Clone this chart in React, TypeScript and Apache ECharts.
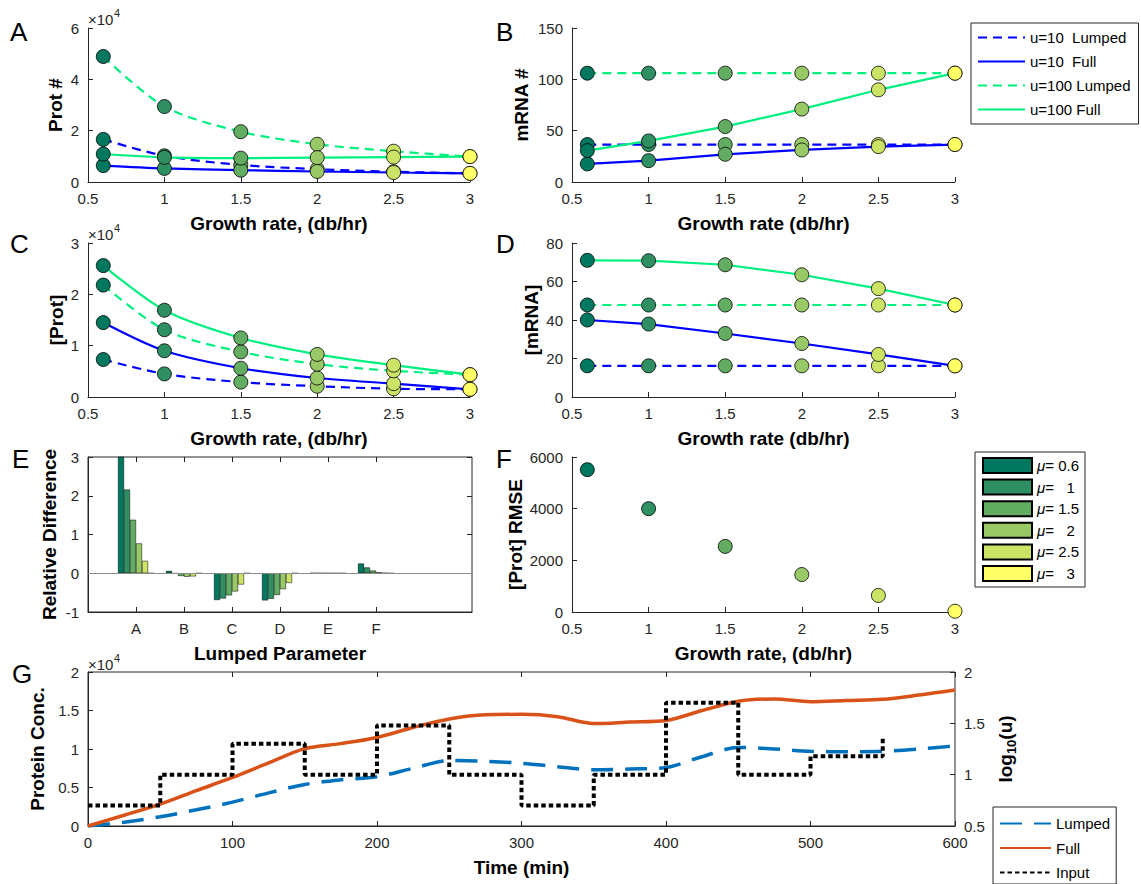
import React, { useEffect, useRef } from 'react';
import * as echarts from 'echarts';

// ---------- data ----------
const growth = [0.6, 1, 1.5, 2, 2.5, 3];
const muNames = ['μ= 0.6', 'μ=   1', 'μ= 1.5', 'μ=   2', 'μ= 2.5', 'μ=   3'];
const muColors = ['#00775f', '#2e8f62', '#63ad63', '#99c966', '#cce466', '#ffff66'];

const lineNames = ['u=10  Lumped', 'u=10  Full', 'u=100 Lumped', 'u=100 Full'];

// A: Prot #
const protNumU10Lumped = [16600, 10200, 6650, 5000, 4000, 3350];
const protNumU10Full = [6400, 5300, 4600, 4100, 3700, 3350];
const protNumU100Lumped = [48900, 29400, 19600, 14700, 12000, 9900];
const protNumU100Full = [10900, 9600, 9300, 9500, 9700, 9900];

// B: mRNA #
const mrnaNumU10Lumped = [36.5, 36.5, 36.5, 36.5, 36.5, 36.5];
const mrnaNumU10Full = [17.6, 20.8, 27, 31.2, 34.5, 36.5];
const mrnaNumU100Lumped = [106, 106, 106, 106, 106, 106];
const mrnaNumU100Full = [30.6, 40, 54, 71, 89.8, 106];

// C: [Prot]
const protConcU10Lumped = [7300, 4500, 2900, 2100, 1600, 1500];
const protConcU10Full = [14500, 9000, 5600, 3700, 2600, 1500];
const protConcU100Lumped = [21800, 13100, 8800, 6400, 5100, 4350];
const protConcU100Full = [25600, 16900, 11500, 8300, 6200, 4350];

// D: [mRNA]
const mrnaConcU10Lumped = [16.2, 16.2, 16.2, 16.2, 16.2, 16.2];
const mrnaConcU10Full = [40, 37.9, 33, 27.8, 22.1, 16.2];
const mrnaConcU100Lumped = [47.8, 47.8, 47.8, 47.8, 47.8, 47.8];
const mrnaConcU100Full = [71, 70.8, 68.7, 63.5, 56.3, 47.8];

// E: relative difference per lumped parameter (A..F), one row per mu
const paramNames = ['A', 'B', 'C', 'D', 'E', 'F'];
const relDiffMu06 = [3.4, 0.06, -0.69, -0.70, 0.004, 0.25];
const relDiffMu1 = [2.16, -0.01, -0.65, -0.66, 0.003, 0.15];
const relDiffMu15 = [1.38, -0.07, -0.57, -0.56, 0.002, 0.07];
const relDiffMu2 = [0.77, -0.09, -0.47, -0.41, 0.002, 0.025];
const relDiffMu25 = [0.32, -0.08, -0.29, -0.25, 0.001, 0.006];
const relDiffMu3 = [0, 0, 0, 0, 0, 0];

// F: [Prot] RMSE
const protRmse = [5510, 4000, 2540, 1450, 640, 30];

// G: time course
const timeMin = [0, 25, 50, 75, 100, 125, 150, 175, 200, 225, 250, 275, 300, 325, 350, 375, 400, 425, 450, 475, 500, 525, 550, 575, 600];
const fullConc = [0, 1400, 2850, 4600, 6300, 8200, 10050, 10700, 11500, 12800, 13900, 14450, 14500, 14200, 13300, 13500, 13700, 15000, 16200, 16500, 16150, 16300, 16450, 17000, 17650];
const lumpedConc = [0, 500, 1200, 2100, 3100, 4300, 5400, 6000, 6400, 7500, 8500, 8400, 8150, 7700, 7300, 7400, 7600, 9000, 10200, 10000, 9700, 9650, 9700, 10000, 10400];
const inputTimes = [0, 50, 100, 150, 200, 250, 300, 350, 400, 450, 500, 550];
const inputLogU = [0.7, 1, 1.3, 1, 1.48, 1, 0.7, 1, 1.7, 1, 1.18, 1.36];

// ---------- styling ----------
const FONT = '"Liberation Sans", Arial, Helvetica, sans-serif';
const AX = '#262626';
const BLUE = '#0000ff';
const GREEN = '#00f080';
const lineColors = [BLUE, BLUE, GREEN, GREEN];
const lineDash: any[] = [[9, 6], 'solid', [9, 6], 'solid'];

function axis(o: any) {
  const { label = {}, tick = {}, line = {}, ...rest } = o;
  return {
    axisLine: { show: true, onZero: false, lineStyle: { color: AX, width: 1 }, ...line },
    axisTick: { show: true, inside: true, length: 5, lineStyle: { color: AX, width: 1 }, ...tick },
    axisLabel: { color: AX, fontSize: 15, fontFamily: FONT, margin: 9, ...label },
    splitLine: { show: false },
    nameLocation: 'middle',
    nameTextStyle: { color: '#000', fontSize: 19, fontWeight: 'bold', fontFamily: FONT },
    ...rest,
  };
}

function panelSeries(idx: number, sets: number[][], smooth: any) {
  const out: any[] = [];
  sets.forEach((vals, k) => {
    out.push({
      type: 'line',
      name: lineNames[k],
      xAxisIndex: idx,
      yAxisIndex: idx,
      data: growth.map((g, i) => [g, vals[i]]),
      symbol: 'none',
      smooth,
      lineStyle: { color: lineColors[k], width: 2.2, type: lineDash[k] },
      itemStyle: { color: lineColors[k] },
      z: 2,
    });
  });
  sets.forEach((vals, k) => {
    out.push({
      type: 'scatter',
      name: `pts${idx}_${k}`,
      xAxisIndex: idx,
      yAxisIndex: idx,
      data: growth.map((g, i) => [g, vals[i]]),
      symbolSize: 14,
      itemStyle: { color: (p: any) => muColors[p.dataIndex], borderColor: '#000', borderWidth: 0.8, opacity: 1 },
      z: 3,
      silent: true,
    });
  });
  return out;
}

const grids = [
  { left: 88, top: 28, width: 382, height: 154 },
  { left: 572, top: 28, width: 383, height: 154 },
  { left: 88, top: 243, width: 382, height: 154 },
  { left: 572, top: 243, width: 383, height: 154 },
  { left: 88, top: 457, width: 384, height: 155, show: true, borderColor: AX, borderWidth: 1 },
  { left: 572, top: 457, width: 383, height: 155 },
  { left: 88, top: 672, width: 867, height: 154, show: true, borderColor: AX, borderWidth: 1 },
];

const catData = ['pad0', ...paramNames, 'pad7', 'pad8'];
const catShow = (i: number) => i >= 1 && i <= 6;
const plain = (v: number) => String(v);
const growthAxis = (grid: number, name: string) =>
  axis({ type: 'value', gridIndex: grid, min: 0.5, max: 3, interval: 0.5, name, nameGap: 32 });

const xAxes = [
  growthAxis(0, 'Growth rate, (db/hr)'),
  growthAxis(1, 'Growth rate (db/hr)'),
  growthAxis(2, 'Growth rate, (db/hr)'),
  growthAxis(3, 'Growth rate (db/hr)'),
  axis({
    type: 'category', gridIndex: 4, data: catData, boundaryGap: false, name: 'Lumped Parameter', nameGap: 32,
    label: { interval: (i: number) => catShow(i) }, tick: { interval: (i: number) => catShow(i) },
  }),
  growthAxis(5, 'Growth rate, (db/hr)'),
  axis({ type: 'value', gridIndex: 6, min: 0, max: 600, interval: 100, name: 'Time (min)', nameGap: 32 }),
  axis({
    type: 'category', gridIndex: 4, data: catData, boundaryGap: false, position: 'top',
    line: { show: false }, label: { show: false }, tick: { interval: (i: number) => catShow(i) },
  }),
  axis({ type: 'value', gridIndex: 6, min: 0, max: 600, interval: 100, position: 'top', line: { show: false }, label: { show: false } }),
];

const yAxes = [
  axis({ type: 'value', gridIndex: 0, min: 0, max: 60000, interval: 20000, name: 'Prot #', nameGap: 23, nameRotate: 90, label: { formatter: (v: number) => String(v / 10000) } }),
  axis({ type: 'value', gridIndex: 1, min: 0, max: 150, interval: 50, name: 'mRNA #', nameGap: 41, nameRotate: 90 }),
  axis({ type: 'value', gridIndex: 2, min: 0, max: 30000, interval: 10000, name: '[Prot]', nameGap: 22, nameRotate: 90, label: { formatter: (v: number) => String(v / 10000) } }),
  axis({ type: 'value', gridIndex: 3, min: 0, max: 80, interval: 20, name: '[mRNA]', nameGap: 31, nameRotate: 90 }),
  axis({ type: 'value', gridIndex: 4, min: -1, max: 3, interval: 1, name: 'Relative Difference', nameGap: 29, nameRotate: 90 }),
  axis({ type: 'value', gridIndex: 5, min: 0, max: 6000, interval: 2000, name: '[Prot] RMSE', nameGap: 47, nameRotate: 90, label: { formatter: plain } }),
  axis({ type: 'value', gridIndex: 6, min: 0, max: 20000, interval: 5000, name: 'Protein Conc.', nameGap: 36, nameRotate: 90, label: { formatter: (v: number) => String(v / 10000) } }),
  axis({
    type: 'value', gridIndex: 6, min: 0.5, max: 2, interval: 0.5, position: 'right', line: { show: false },
    name: '{a|log}{s|10}{a|(u)}', nameGap: 38, nameRotate: 90,
    nameTextStyle: {
      color: '#000', fontFamily: FONT,
      rich: {
        a: { fontSize: 19, fontWeight: 'bold', fontFamily: FONT, color: '#000', lineHeight: 25 },
        s: { fontSize: 13, fontWeight: 'bold', fontFamily: FONT, color: '#000', lineHeight: 13, verticalAlign: 'bottom' },
      },
    },
  }),
  axis({ type: 'value', gridIndex: 4, min: -1, max: 3, interval: 1, position: 'right', line: { show: false }, label: { show: false } }),
];

const relDiffRows = [relDiffMu06, relDiffMu1, relDiffMu15, relDiffMu2, relDiffMu25, relDiffMu3];
const barSeries = relDiffRows.map((row, k) => ({
  type: 'bar',
  name: muNames[k],
  xAxisIndex: 4,
  yAxisIndex: 4,
  data: ['-', ...row, '-', '-'],
  barGap: '0%',
  barCategoryGap: '25%',
  itemStyle: { color: muColors[k], borderColor: '#000', borderWidth: 0.5 },
  ...(k === 0
    ? {
        markLine: {
          silent: true, symbol: 'none', label: { show: false },
          lineStyle: { color: '#8c8c8c', width: 1, type: 'solid' },
          data: [{ yAxis: 0 }],
        },
      }
    : {}),
}));

const rmseSeries = {
  type: 'scatter',
  name: 'rmse',
  xAxisIndex: 5,
  yAxisIndex: 5,
  data: growth.map((g, i) => [g, protRmse[i]]),
  symbolSize: 14,
  itemStyle: { color: (p: any) => muColors[p.dataIndex], borderColor: '#000', borderWidth: 0.8, opacity: 1 },
};

const gSeries = [
  {
    type: 'line', name: 'Lumped', xAxisIndex: 6, yAxisIndex: 6, symbol: 'none', smooth: 0.3,
    data: timeMin.map((t, i) => [t, lumpedConc[i]]),
    lineStyle: { color: '#0072bd', width: 3.5, type: [22, 12] }, itemStyle: { color: '#0072bd' },
  },
  {
    type: 'line', name: 'Full', xAxisIndex: 6, yAxisIndex: 6, symbol: 'none', smooth: 0.3,
    data: timeMin.map((t, i) => [t, fullConc[i]]),
    lineStyle: { color: '#d95319', width: 3.5 }, itemStyle: { color: '#d95319' },
  },
  {
    type: 'line', name: 'Input', xAxisIndex: 6, yAxisIndex: 7, symbol: 'none', step: 'end',
    data: inputTimes.map((t, i) => [t, inputLogU[i]]),
    lineStyle: { color: '#000', width: 4, type: [4.5, 3], cap: 'butt' }, itemStyle: { color: '#000' },
  },
];

const letters: [string, number, number][] = [
  ['A', 10, 32], ['B', 496, 32], ['C', 10, 244], ['D', 496, 244], ['E', 12, 459], ['F', 496, 459], ['G', 12, 674],
];
const expPos: [number, number][] = [[88, 19], [88, 234], [88, 664]];

const graphics: any[] = [];
letters.forEach(([t, x, y]) =>
  graphics.push({ type: 'text', x, y, silent: true, style: { text: t, fontSize: 26, fontFamily: FONT, fill: '#000', verticalAlign: 'middle' } })
);
expPos.forEach(([x, y]) => {
  graphics.push({ type: 'text', x, y, silent: true, style: { text: '×10', fontSize: 15, fontFamily: FONT, fill: AX, verticalAlign: 'middle' } });
  graphics.push({ type: 'text', x: x + 26, y: y - 6, silent: true, style: { text: '4', fontSize: 11, fontFamily: FONT, fill: AX, verticalAlign: 'middle' } });
});

const legendText = { fontSize: 15, fontFamily: FONT, color: '#000' };

const option: any = {
  animation: false,
  backgroundColor: '#ffffff',
  grid: grids,
  xAxis: xAxes,
  yAxis: yAxes,
  graphic: graphics,
  legend: [
    {
      data: lineNames, orient: 'vertical', left: 971, top: 23, padding: [7, 8, 7, 6], itemGap: 9,
      itemWidth: 47, itemHeight: 14, borderColor: AX, borderWidth: 1, backgroundColor: '#fff',
      textStyle: legendText, itemStyle: { opacity: 0 }, selectedMode: false,
    },
    {
      data: muNames, orient: 'vertical', left: 975, top: 452, padding: [5, 6, 5, 7], itemGap: 4.6,
      itemWidth: 49, itemHeight: 15, icon: 'rect', borderColor: AX, borderWidth: 1, backgroundColor: '#fff',
      selectedMode: false,
      formatter: (n: string) => `{i|μ}{t|${n.slice(1)}}`,
      textStyle: {
        ...legendText,
        rich: {
          i: { fontSize: 15, fontStyle: 'italic', fontFamily: FONT, color: '#000' },
          t: { fontSize: 15, fontFamily: FONT, color: '#000' },
        },
      },
    },
    {
      data: ['Lumped', 'Full', 'Input'], orient: 'vertical', left: 993, top: 807, padding: [9, 6, 4, 6], itemGap: 9.5,
      itemWidth: 51, itemHeight: 14, borderColor: AX, borderWidth: 1, backgroundColor: '#fff',
      textStyle: legendText, itemStyle: { opacity: 0 }, selectedMode: false,
    },
  ],
  series: [
    ...panelSeries(0, [protNumU10Lumped, protNumU10Full, protNumU100Lumped, protNumU100Full], 0.3),
    ...panelSeries(1, [mrnaNumU10Lumped, mrnaNumU10Full, mrnaNumU100Lumped, mrnaNumU100Full], false),
    ...panelSeries(2, [protConcU10Lumped, protConcU10Full, protConcU100Lumped, protConcU100Full], 0.3),
    ...panelSeries(3, [mrnaConcU10Lumped, mrnaConcU10Full, mrnaConcU100Lumped, mrnaConcU100Full], false),
    ...barSeries,
    rmseSeries,
    ...gSeries,
  ],
};

export default function App() {
  const ref = useRef<HTMLDivElement>(null);
  useEffect(() => {
    const chart = echarts.init(ref.current as HTMLDivElement, null, { renderer: 'svg' });
    chart.setOption(option);
    return () => chart.dispose();
  }, []);
  return <div ref={ref} style={{ position: 'absolute', left: 0, top: 0, width: 1141, height: 884, background: '#fff' }} />;
}
